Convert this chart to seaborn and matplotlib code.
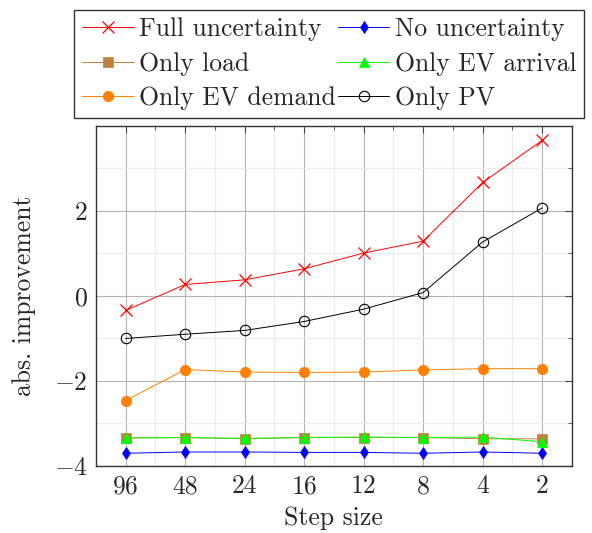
import numpy as np
import pandas as pd
import matplotlib
matplotlib.use("Agg")
import matplotlib.pyplot as plt
import seaborn as sns
from matplotlib.ticker import MultipleLocator

step_sizes = ["96", "48", "24", "16", "12", "8", "4", "2"]
full_unc = [-0.34, 0.27, 0.38, 0.64, 1.01, 1.29, 2.67, 3.66]
no_unc = [-3.70, -3.67, -3.67, -3.68, -3.68, -3.70, -3.67, -3.70]
only_load = [-3.34, -3.33, -3.36, -3.33, -3.33, -3.33, -3.36, -3.36]
only_ev_arrival = [-3.34, -3.33, -3.35, -3.33, -3.32, -3.33, -3.32, -3.43]
only_ev_demand = [-2.46, -1.73, -1.79, -1.80, -1.79, -1.74, -1.71, -1.71]
only_pv = [-1.00, -0.90, -0.81, -0.60, -0.31, 0.08, 1.27, 2.07]

sns.set_style("white")
plt.rcParams["font.family"] = ["cmr10", "DejaVu Serif"]
plt.rcParams["mathtext.fontset"] = "cm"
plt.rcParams["axes.formatter.use_mathtext"] = True
plt.rcParams["axes.unicode_minus"] = True

FS = 18.5

fig = plt.figure(figsize=(5.92, 5.33), dpi=100)
ax = fig.add_axes([0.162, 0.1257, 0.804, 0.638])

pos = np.arange(len(step_sizes))
series = [
    ("Full uncertainty", full_unc, "#ff0000", "x", dict(markersize=8, markeredgewidth=0.9, markerfacecolor="#ff0000")),
    ("No uncertainty", no_unc, "#0000ff", "d", dict(markersize=6.5, markeredgewidth=0.5, markerfacecolor="#0000ff")),
    ("Only load", only_load, "#bf8040", "s", dict(markersize=6.5, markeredgewidth=0.5, markerfacecolor="#bf8040")),
    ("Only EV arrival", only_ev_arrival, "#00ff00", "^", dict(markersize=6.5, markeredgewidth=0.5, markerfacecolor="#00ff00")),
    ("Only EV demand", only_ev_demand, "#ff8000", "o", dict(markersize=7.5, markeredgewidth=0.5, markerfacecolor="#ff8000")),
    ("Only PV", only_pv, "#000000", "o", dict(markersize=7.5, markeredgewidth=0.8, markerfacecolor="none")),
]

handles = {}
for name, vals, col, mk, kw in series:
    df = pd.DataFrame({"x": pos, "y": vals})
    sns.lineplot(data=df, x="x", y="y", ax=ax, color=col, marker=mk, linewidth=0.7,
                 markeredgecolor=col, label=name, **kw)
    handles[name] = ax.get_lines()[-1]

ax.set_xlim(-0.5, 7.5)
ax.set_ylim(-4, 4)
ax.set_xticks(pos)
ax.set_xticklabels(step_sizes)
ax.xaxis.set_minor_locator(MultipleLocator(0.5))
ax.set_yticks([-4, -2, 0, 2])
ax.yaxis.set_minor_locator(MultipleLocator(1))
ax.grid(True, which="major", color="#b4b4b4", linewidth=0.8)
ax.grid(True, which="minor", color="#ebebeb", linewidth=0.8)
ax.set_axisbelow(True)
ax.tick_params(which="both", direction="in", top=True, right=True, labelsize=FS,
               color="#444444")
ax.tick_params(which="major", length=5, pad=6)
ax.tick_params(which="minor", length=3)
for s in ax.spines.values():
    s.set_color("#333333")
    s.set_linewidth(1.0)

ax.set_xlabel("Step size", fontsize=FS, labelpad=6)
ax.set_ylabel("abs. improvement", fontsize=FS, labelpad=13)

order = ["Full uncertainty", "Only load", "Only EV demand",
         "No uncertainty", "Only EV arrival", "Only PV"]
leg = ax.legend([handles[n] for n in order], order,
                loc="lower center", bbox_to_anchor=(0.49, 1.0235), borderaxespad=0,
                ncol=2, fontsize=FS,
                frameon=True, fancybox=False, edgecolor="#333333", framealpha=1,
                handlelength=2.0, columnspacing=0.1, handletextpad=0.2,
                labelspacing=0.42, borderpad=0.3)
leg.get_frame().set_linewidth(1.0)

fig.savefig("out.png", dpi=100)
